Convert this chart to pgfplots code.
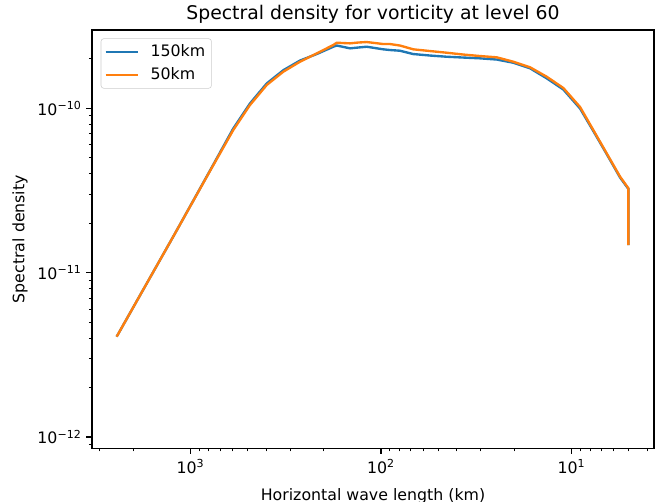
\documentclass[border=0pt]{standalone}
\usepackage{fontspec}
\setmainfont{DejaVu Sans}
\usepackage{pgfplots}
\pgfplotsset{compat=1.18}
\definecolor{c0}{HTML}{1F77B4}
\definecolor{c1}{HTML}{FF7F0E}
\pgfplotstableread{
lam rho
2440 4.08e-12
1206 1.731e-11
790 4.18e-11
596.3 7.54e-11
487.3 1.070e-10
398.1 1.416e-10
325.8 1.705e-10
266.2 1.953e-10
217.5 2.139e-10
178.0 2.370e-10
170.8 2.410e-10
145.4 2.317e-10
132.1 2.343e-10
118.9 2.370e-10
107.5 2.327e-10
97.25 2.285e-10
89.7 2.263e-10
79.5 2.241e-10
67.7 2.139e-10
55.3 2.095e-10
45.2 2.060e-10
37.1 2.037e-10
30.2 2.014e-10
24.7 1.981e-10
20.2 1.894e-10
16.5 1.751e-10
13.5 1.522e-10
11.04 1.301e-10
9.02 9.97e-11
7.69 7.28e-11
6.54 5.27e-11
5.565 3.795e-11
5.03 3.23e-11
5.03 1.47e-11
}\blue
\pgfplotstableread{
lam rho
2440 4.08e-12
1206 1.731e-11
790 4.155e-11
596.3 7.38e-11
487.3 1.047e-10
398.1 1.386e-10
325.8 1.670e-10
266.2 1.921e-10
217.5 2.160e-10
178.0 2.427e-10
170.8 2.506e-10
145.4 2.485e-10
132.1 2.513e-10
118.9 2.531e-10
107.5 2.496e-10
97.25 2.461e-10
89.7 2.461e-10
79.5 2.410e-10
67.7 2.285e-10
55.3 2.231e-10
45.2 2.179e-10
37.1 2.125e-10
30.2 2.080e-10
24.7 2.043e-10
20.2 1.921e-10
16.5 1.776e-10
13.5 1.557e-10
11.04 1.329e-10
9.02 1.018e-10
7.69 7.38e-11
6.54 5.32e-11
5.565 3.84e-11
5.03 3.26e-11
5.03 1.47e-11
}\orange
\begin{document}
\begin{tikzpicture}
\begin{loglogaxis}[
  scale only axis, width=404.6bp, height=301bp,
  x dir=reverse,
  xmin=3.69, xmax=3289, ymin=8.55e-13, ymax=2.995e-10,
  xtick={10,100,1000},
  xticklabels={10\textsuperscript{1},10\textsuperscript{2},10\textsuperscript{3}},
  minor xtick={4,5,6,7,8,9,20,30,40,50,60,70,80,90,200,300,400,500,600,700,800,900,2000,3000},
  ytick={1e-12,1e-11,1e-10},
  yticklabels={10\textsuperscript{−12},10\textsuperscript{−11},10\textsuperscript{−10}},
  minor ytick={9e-13,2e-12,3e-12,4e-12,5e-12,6e-12,7e-12,8e-12,9e-12,2e-11,3e-11,4e-11,5e-11,6e-11,7e-11,8e-11,9e-11,2e-10},
  tick align=outside, tick pos=left,
  major tick length=4bp, minor tick length=2.3bp,
  every tick/.style={black, line width=0.9bp},
  every minor tick/.style={black, line width=0.7bp},
  axis line style={line width=0.9bp},
  tick label style={font=\fontsize{11.4}{13}\selectfont},
  xticklabel style={anchor=base, yshift=-14bp},
  title={Spectral density for vorticity at level 60},
  title style={font=\fontsize{13.6}{16}\selectfont, at={(axis description cs:0.5,1)}, anchor=base, yshift=1.9bp},
  xlabel={Horizontal wave length (km)},
  ylabel={Spectral density},
  label style={font=\fontsize{11.4}{13}\selectfont},
  xlabel style={at={(axis description cs:0.5,0)}, anchor=base, yshift=-37.4bp},
  ylabel style={at={(axis description cs:-0.128,0.5)}, anchor=center, rotate=0},
  legend style={at={(axis description cs:0.0156,0.98)}, anchor=north west,
    draw=black!20, rounded corners=2bp, fill=white, font=\fontsize{11.4}{13}\selectfont,
    inner sep=2.5bp, row sep=2.5bp},
  legend cell align=left,
  legend image code/.code={\draw[#1, line width=1.7bp] (0bp,0bp) -- (23bp,0bp); \path (29.5bp,0bp);},
]
\addplot[c0, line width=1.7bp] table[x=lam, y=rho] {\blue};
\addlegendentry{150km}
\addplot[c1, line width=1.7bp] table[x=lam, y=rho] {\orange};
\addlegendentry{50km}
\end{loglogaxis}
\pgfresetboundingbox
\path ([shift={(-66.2bp,-38.7bp)}]current axis.south west) rectangle ([shift={(1.4bp,21.6bp)}]current axis.north east);
\end{tikzpicture}
\end{document}
